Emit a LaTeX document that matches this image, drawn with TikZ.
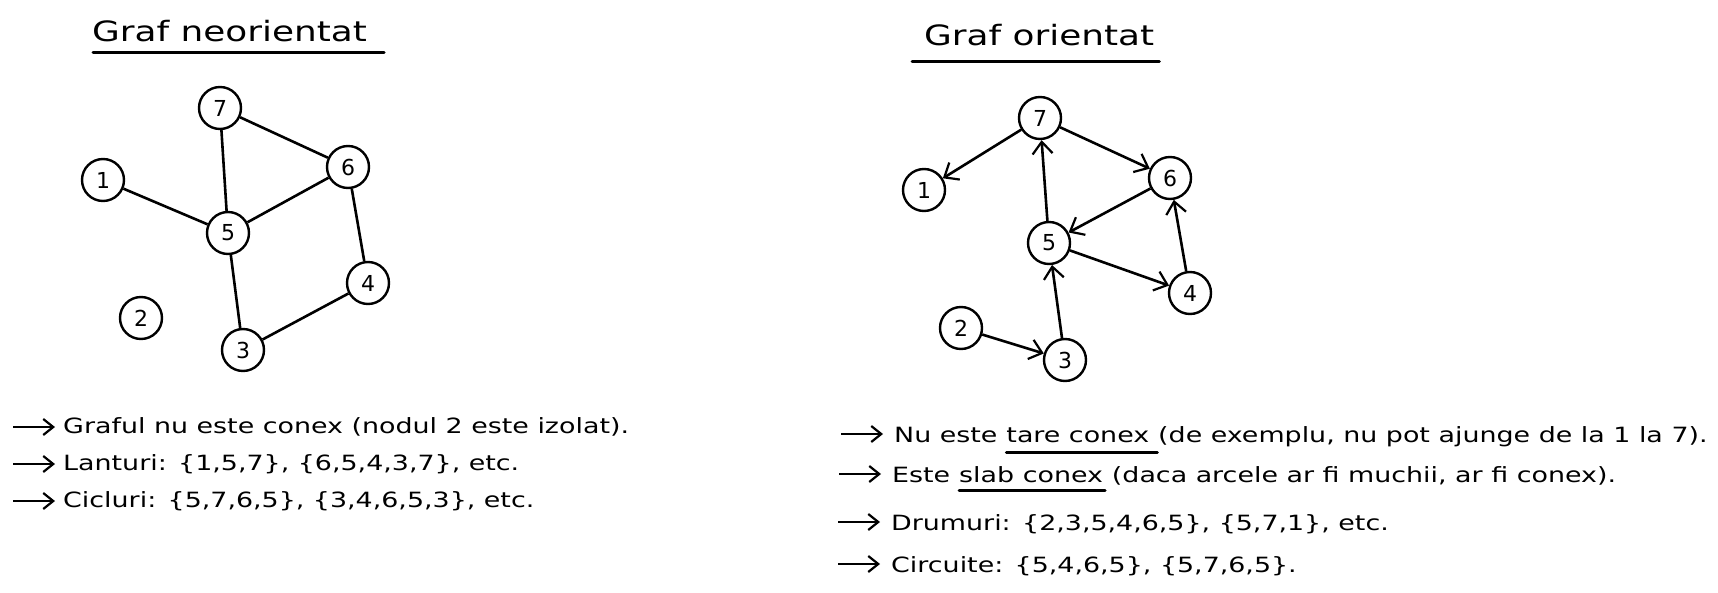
\documentclass[tikz,border=0pt]{standalone}
\usepackage{fontspec}
\setmainfont{DejaVu Sans}[FakeStretch=1.28]
\newfontfamily\digitfont{DejaVu Sans}
\usetikzlibrary{arrows.meta,positioning}

\begin{document}
\begin{tikzpicture}[x=1pt,y=-1pt,
    vertex/.style={draw,circle,line width=2.4pt,minimum size=42pt,inner sep=0pt,font=\digitfont\fontsize{22}{22}\selectfont},
    edge/.style={line width=2.6pt},
    arc/.style={line width=2.6pt,-{Straight Barb[length=12pt,width=20pt,line width=2.2pt]}},
    title/.style={font=\fontsize{28}{28}\selectfont,inner sep=0pt,anchor=base west},
    txt/.style={font=\fontsize{21}{24}\selectfont,inner sep=0pt,anchor=base west},
    bullet/.style={line width=2.2pt,-{Straight Barb[length=10pt,width=16pt,line width=2.2pt]}},
    uline/.style={line width=3pt,line cap=round}]
  \useasboundingbox (0,0) rectangle (1718,593);

  \node[title] (t1) at (92,42) {Graf neorientat};
  \draw[uline] ([shift={(1,11)}]t1.base west) -- ([shift={(17,11)}]t1.base east);
  \node[title] (t2) at (924,46) {Graf orientat};
  \draw[uline] ([shift={(-12,16)}]t2.base west) -- ([shift={(5,16)}]t2.base east);

  \foreach \n/\x/\y in {1/103/180,2/141/318,3/243/350,4/368/283,5/228/233,6/348/167,7/220/108}
    \node[vertex] (a\n) at (\x,\y) {\n};
  \foreach \a/\b in {7/6,7/5,1/5,6/5,6/4,5/3,4/3}
    \draw[edge] (a\a) -- (a\b);

  \foreach \n/\x/\y in {1/924/190,2/961/328,3/1065/360,4/1190/293,5/1049/243,6/1170/178,7/1040/118}
    \node[vertex] (b\n) at (\x,\y) {\n};
  \foreach \a/\b in {7/1,7/6,5/7,6/5,5/4,4/6,2/3,3/5}
    \draw[arc] (b\a) -- (b\b);

  \foreach \i/\y/\t in {1/433/{Graful nu este conex (nodul 2 este izolat).},
      2/470/{Lanturi: \{1,5,7\}, \{6,5,4,3,7\}, etc.},
      3/507/{Cicluri: \{5,7,6,5\}, \{3,4,6,5,3\}, etc.}}{
    \node[txt] (l\i) at (63,\y) {\t};
    \draw[bullet] ([shift={(-50,-6)}]l\i.base west) -- ([shift={(-8,-6)}]l\i.base west);
  }

  \node[txt] (r1a) at (894,442) {Nu este\ \null};
  \node[txt] (r1b) at (r1a.base east) {tare conex};
  \node[txt] (r1c) at (r1b.base east) {\null\ (de exemplu, nu pot ajunge de la 1 la 7).};
  \draw[uline] ([shift={(0,10)}]r1b.base west) -- ([shift={(8,10)}]r1b.base east);
  \node[txt] (r2a) at (892,482) {Este\ \null};
  \node[txt] (r2b) at (r2a.base east) {slab conex};
  \node[txt] (r2c) at (r2b.base east) {\null\ (daca arcele ar fi muchii, ar fi conex).};
  \draw[uline] ([shift={(0,8)}]r2b.base west) -- ([shift={(2,8)}]r2b.base east);
  \node[txt] (r3) at (891,530) {Drumuri: \{2,3,5,4,6,5\}, \{5,7,1\}, etc.};
  \node[txt] (r4) at (891,572) {Circuite: \{5,4,6,5\}, \{5,7,6,5\}.};
  \foreach \r in {r1a,r2a,r3,r4}
    \draw[bullet] ([shift={(-53,-8)}]\r.base west) -- ([shift={(-11,-8)}]\r.base west);
\end{tikzpicture}
\end{document}
